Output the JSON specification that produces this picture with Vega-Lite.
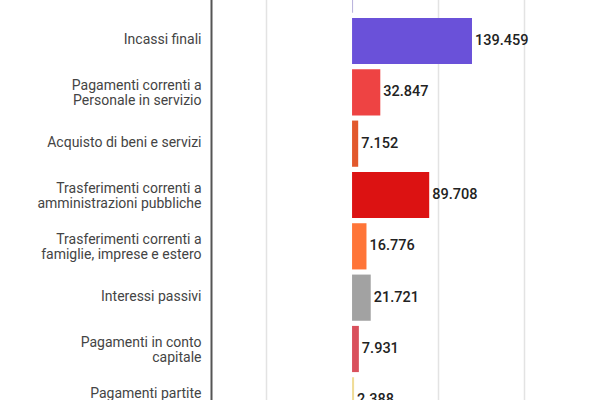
{
  "$schema": "https://vega.github.io/schema/vega-lite/v6.json",
  "autosize": {"type": "none"},
  "padding": {"left": 211, "top": -36, "right": 0, "bottom": 0},
  "width": 389,
  "height": 462,
  "background": "white",
  "config": {
    "locale": {"number": {"decimal": ",", "thousands": ".", "grouping": [3], "currency": ["€", ""]}},
    "view": {"stroke": null},
    "font": "Roboto"
  },
  "data": {
    "values": [
      {"voce": "Incassi partite finanziarie", "valore": 1200},
      {"voce": "Incassi finali", "valore": 139459},
      {"voce": "Pagamenti correnti a\nPersonale in servizio", "valore": 32847},
      {"voce": "Acquisto di beni e servizi", "valore": 7152},
      {"voce": "Trasferimenti correnti a\namministrazioni pubbliche", "valore": 89708},
      {"voce": "Trasferimenti correnti a\nfamiglie, imprese e estero", "valore": 16776},
      {"voce": "Interessi passivi", "valore": 21721},
      {"voce": "Pagamenti in conto\ncapitale", "valore": 7931},
      {"voce": "Pagamenti partite\nfinanziarie", "valore": 2388}
    ]
  },
  "encoding": {
    "y": {
      "field": "voce",
      "type": "nominal",
      "sort": null,
      "scale": {"paddingInner": 0.1, "paddingOuter": 0.05},
      "axis": {
        "title": null,
        "ticks": false,
        "domainColor": "#555555",
        "domainWidth": 2,
        "labelFont": "Roboto",
        "labelFontSize": 14,
        "labelColor": "#444444",
        "labelPadding": 10,
        "labelLineHeight": 15.5,
        "labelLimit": 220,
        "labelOffset": {"condition": {"test": "indexof(datum.value, '\\n') >= 0", "value": -6.5}, "value": -1},
        "labelExpr": "split(datum.label, '\\n')"
      }
    },
    "x": {
      "field": "valore",
      "type": "quantitative",
      "scale": {"domain": [-164000, 288300], "nice": false, "zero": false},
      "axis": {
        "title": null,
        "labels": false,
        "ticks": false,
        "domain": false,
        "values": [-100000, 100000, 200000, 300000],
        "gridColor": "#e3e3e3",
        "gridWidth": 1.5
      }
    }
  },
  "layer": [
    {
      "mark": {"type": "bar"},
      "encoding": {
        "x2": {"datum": 0},
        "color": {
          "field": "voce",
          "type": "nominal",
          "legend": null,
          "scale": {
            "domain": [
              "Incassi partite finanziarie",
              "Incassi finali",
              "Pagamenti correnti a\nPersonale in servizio",
              "Acquisto di beni e servizi",
              "Trasferimenti correnti a\namministrazioni pubbliche",
              "Trasferimenti correnti a\nfamiglie, imprese e estero",
              "Interessi passivi",
              "Pagamenti in conto\ncapitale",
              "Pagamenti partite\nfinanziarie"
            ],
            "range": ["#b8b2dc", "#6a51d9", "#ee4343", "#e2582c", "#dc1212", "#ff7538", "#a2a2a2", "#d9505c", "#f0dc96"]
          }
        }
      }
    },
    {
      "mark": {"type": "text", "align": "left", "baseline": "middle", "dx": 3, "font": "Roboto", "fontSize": 14.5, "fontWeight": 500, "color": "#222222"},
      "encoding": {
        "text": {"field": "valore", "type": "quantitative", "format": ",.0f"}
      }
    }
  ]
}
